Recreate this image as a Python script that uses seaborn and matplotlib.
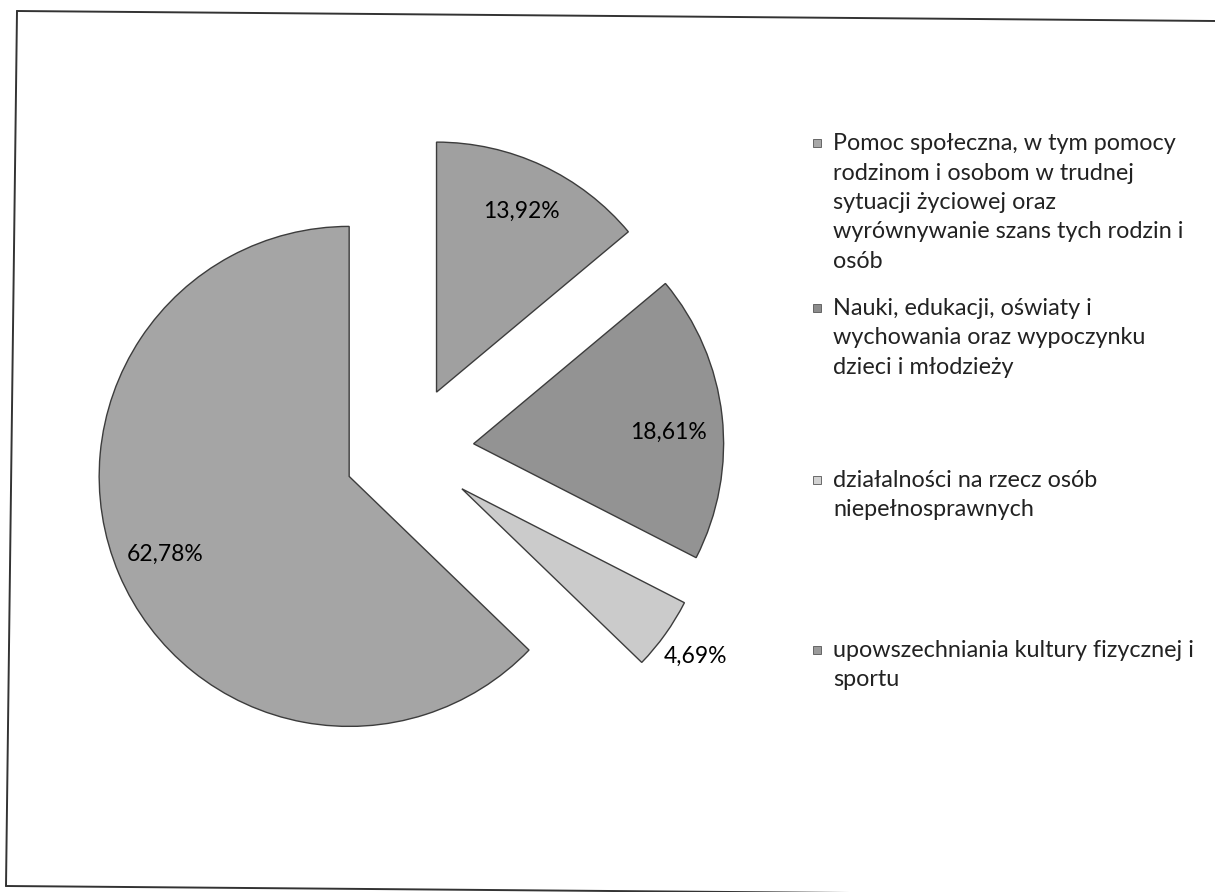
import matplotlib
matplotlib.use("Agg")
import matplotlib.pyplot as plt
import seaborn as sns
import numpy as np
from matplotlib.patches import Rectangle
from matplotlib.lines import Line2D

# ---- data ----
categories = [
    "Pomoc społeczna, w tym pomocy\nrodzinom i osobom w trudnej\nsytuacji życiowej oraz\nwyrównywanie szans tych rodzin i\nosób",
    "Nauki, edukacji, oświaty i\nwychowania oraz wypoczynku\ndzieci i młodzieży",
    "działalności na rzecz osób\nniepełnosprawnych",
    "upowszechniania kultury fizycznej i\nsportu",
]
values = [13.92, 18.61, 4.69, 62.78]
colors = ["#a0a0a0", "#939393", "#cbcbcb", "#a5a5a5"]
marker_colors = ["#a8a8a8", "#8c8c8c", "#d2d2d2", "#9a9a9a"]

sns.set_theme(style="white")
plt.rcParams['font.family'] = ['Lato', 'DejaVu Sans']

W, H = 1215, 892
fig = plt.figure(figsize=(W / 100, H / 100), dpi=100)
fig.patch.set_facecolor("white")

# pie axes (pixel geometry)
R = 250
span = 1.6
cx, cy = 409, 451
ax = fig.add_axes([(cx - span * R) / W, (H - cy - span * R) / H,
                   2 * span * R / W, 2 * span * R / H])

wedges, texts, autotexts = ax.pie(
    values, colors=colors, startangle=90, counterclock=False,
    explode=[0.26] * len(values), radius=1, pctdistance=0.8,
    autopct=lambda p: f"{p:.2f}%".replace('.', ','),
    wedgeprops=dict(edgecolor='#3c3c3c', linewidth=1.0),
    textprops=dict(fontsize=16.5, color='black'))
ax.set_xlim(-span, span)
ax.set_ylim(-span, span)
ax.set_aspect('equal')
ax.axis('off')

# small slice label sits outside its wedge
w = wedges[2]
th = np.deg2rad((w.theta1 + w.theta2) / 2)
c = np.array(w.center)
autotexts[2].set_position((c[0] + 1.15 * np.cos(th), c[1] + 1.15 * np.sin(th)))
# second slice label sits slightly below its mid-angle
w = wedges[1]
th = np.deg2rad((w.theta1 + w.theta2) / 2 - 3)
c = np.array(w.center)
autotexts[1].set_position((c[0] + 0.78 * np.cos(th), c[1] + 0.78 * np.sin(th)))

# ---- legend (manual, to match first-line aligned markers) ----
def fx(x):
    return x / W

def fy(y):
    return 1 - y / H

first_line_y = [143, 308, 480, 650]
pitch = 29.5
text_x = 833
for lab, mc, y0 in zip(categories, marker_colors, first_line_y):
    fig.patches.append(Rectangle((fx(813), fy(y0 + 4)), 8 / W, 8 / H,
                                 transform=fig.transFigure, facecolor=mc,
                                 edgecolor='#555555', linewidth=0.6))
    for i, line in enumerate(lab.split("\n")):
        fig.text(fx(text_x), fy(y0 + i * pitch + 7), line, fontsize=16.8,
                 color='#222222', ha='left', va='baseline')

# ---- slightly tilted frame (scanned page) ----
frame_kw = dict(transform=fig.transFigure, color='#333333', linewidth=1.4)
fig.lines.append(Line2D([fx(17), fx(1215)], [fy(11), fy(21)], **frame_kw))
fig.lines.append(Line2D([fx(17), fx(6)], [fy(11), fy(886)], **frame_kw))
fig.lines.append(Line2D([fx(6), fx(1215)], [fy(886), fy(896)], **frame_kw))

fig.savefig("out.png", dpi=100, facecolor="white")
